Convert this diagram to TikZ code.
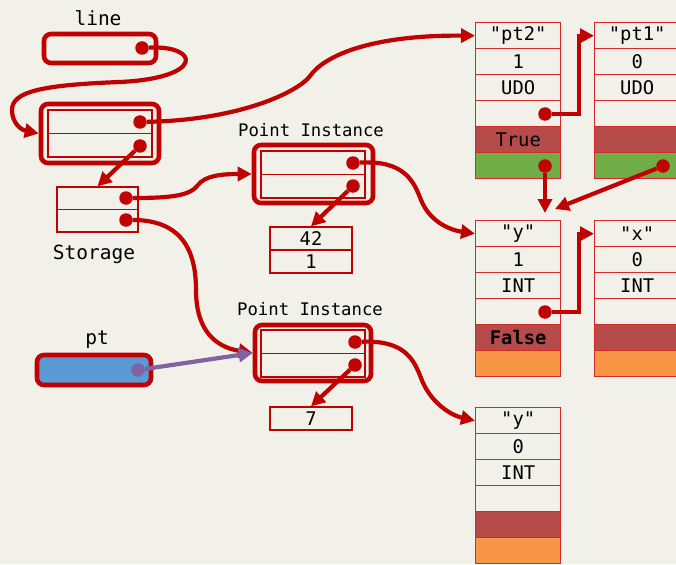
\documentclass[tikz,border=0pt]{standalone}
\usepackage{fontspec}
\setmonofont{DejaVu Sans Mono}
\usetikzlibrary{arrows.meta}
\definecolor{bg}{HTML}{F2F1E9}
\definecolor{ptr}{HTML}{C00000}
\definecolor{cellline}{HTML}{D42A2A}
\definecolor{flagred}{HTML}{B64C4A}
\definecolor{flaggreen}{HTML}{70AD47}
\definecolor{flagorange}{HTML}{F79646}
\definecolor{varblue}{HTML}{5B9BD5}
\definecolor{refpurple}{HTML}{8064A2}
\newcommand\celltext{\ttfamily\fontsize{18.8}{20}\selectfont}
\newcommand\labeltext{\ttfamily\fontsize{19.5}{22}\selectfont}
\newcommand\smalllabel{\ttfamily\fontsize{17.3}{20}\selectfont}
\begin{document}
\begin{tikzpicture}[x=1pt,y=-1pt,
  cell/.style={draw=cellline, line width=1.4pt, fill=bg, minimum width=85pt,
    minimum height=26pt, inner sep=0pt, anchor=north west, font=\celltext},
  varbox/.style={draw=ptr, line width=4.6pt, rounded corners=7pt, inner sep=0pt},
  slot/.style={draw=ptr, line width=1.4pt, inner sep=0pt, font=\celltext},
  dot/.style={circle, fill=ptr, inner sep=0pt, minimum size=13.5pt},
  ptrline/.style={draw=ptr, line width=4.2pt, -{Triangle[length=14pt,width=14pt]}},
  lbl/.style={inner sep=0pt, font=\labeltext},
  slbl/.style={inner sep=0pt, font=\smalllabel}]
\clip (0,0) rectangle (676,564);
\fill[bg] (0,0) rectangle (676,564);

% ---- variable "line" and its instance
\node[lbl] (linelbl) at (98,18) {line};
\node[varbox, minimum width=112pt, minimum height=29pt] (linevar) at (100,48.5) {};
\node[varbox, minimum width=118pt, minimum height=59pt] (lineinst) at (100,133.5) {};
\node[slot, minimum width=104pt, minimum height=23.5pt] (li1) at (100,121.75) {};
\node[slot, minimum width=104pt, minimum height=23.5pt] (li2) at (100,145.25) {};

% ---- storage
\node[slot, minimum width=81pt, minimum height=22.5pt] (st1) at (97.5,198.25) {};
\node[slot, minimum width=81pt, minimum height=22.5pt] (st2) at (97.5,220.75) {};
\node[lbl] (stlbl) at (94,254) {Storage};

% ---- first Point instance
\node[slbl] (pitlbl) at (311,130) {Point Instance};
\node[varbox, minimum width=119pt, minimum height=58pt] (pit) at (313.5,174) {};
\node[slot, minimum width=104pt, minimum height=23.5pt] (pit1) at (313,162.75) {};
\node[slot, minimum width=104pt, minimum height=23.5pt] (pit2) at (313,186.25) {};
\node[slot, minimum width=82pt, minimum height=23pt] (v42) at (311,238.5) {42};
\node[slot, minimum width=82pt, minimum height=23pt] (v1) at (311,261.5) {1};

% ---- second Point instance
\node[slbl] (piblbl) at (310,309) {Point Instance};
\node[varbox, minimum width=116pt, minimum height=56pt] (pib) at (313,353) {};
\node[slot, minimum width=104pt, minimum height=23.5pt] (pib1) at (313,341.75) {};
\node[slot, minimum width=104pt, minimum height=23.5pt] (pib2) at (313,365.25) {};
\node[slot, minimum width=82pt, minimum height=23pt] (v7) at (311,418.5) {7};

% ---- variable "pt"
\node[lbl] (ptlbl) at (97,340) {pt};
\node[varbox, fill=varblue, minimum width=114pt, minimum height=30pt] (ptvar) at (94,370) {};

% ---- attribute records, top pair
\node[cell] (ta1) at (475,22)  {"pt2"};
\node[cell] (ta2) at (475,48)  {1};
\node[cell] (ta3) at (475,74)  {UDO};
\node[cell] (ta4) at (475,100) {};
\node[cell, fill=flagred] (ta5) at (475,126) {True};
\node[cell, fill=flaggreen] (ta6) at (475,152) {};
\node[cell] (tb1) at (594,22)  {"pt1"};
\node[cell] (tb2) at (594,48)  {0};
\node[cell] (tb3) at (594,74)  {UDO};
\node[cell] (tb4) at (594,100) {};
\node[cell, fill=flagred] (tb5) at (594,126) {};
\node[cell, fill=flaggreen] (tb6) at (594,152) {};

% ---- attribute records, middle pair
\node[cell] (ma1) at (475,220) {"y"};
\node[cell] (ma2) at (475,246) {1};
\node[cell] (ma3) at (475,272) {INT};
\node[cell] (ma4) at (475,298) {};
\node[cell, fill=flagred, font=\celltext\bfseries] (ma5) at (475,324) {False};
\node[cell, fill=flagorange] (ma6) at (475,350) {};
\node[cell] (mb1) at (594,220) {"x"};
\node[cell] (mb2) at (594,246) {0};
\node[cell] (mb3) at (594,272) {INT};
\node[cell] (mb4) at (594,298) {};
\node[cell, fill=flagred] (mb5) at (594,324) {};
\node[cell, fill=flagorange] (mb6) at (594,350) {};

% ---- attribute record, bottom
\node[cell] (ba1) at (475,407) {"y"};
\node[cell] (ba2) at (475,433) {0};
\node[cell] (ba3) at (475,459) {INT};
\node[cell] (ba4) at (475,485) {};
\node[cell, fill=flagred] (ba5) at (475,511) {};
\node[cell, fill=flagorange] (ba6) at (475,537) {};

% ---- pointer origins
\node[dot] (ld)   at (142,48) {};
\node[dot] (lid1) at (140,122) {};
\node[dot] (lid2) at (140,146) {};
\node[dot] (sd1)  at (126,198) {};
\node[dot] (sd2)  at (126,220) {};
\node[dot] (pid1) at (353,163) {};
\node[dot] (pid2) at (353,186) {};
\node[dot] (pbd1) at (355,342) {};
\node[dot] (pbd2) at (355,365) {};
\node[dot, fill=refpurple] (ptd) at (138,370) {};
\node[dot] (td4)  at (545,114) {};
\node[dot] (tdg)  at (545,166) {};
\node[dot] (tbg)  at (663,166) {};
\node[dot] (md4)  at (545,312) {};
\coordinate (mtopA) at (545,213);
\coordinate (mtopB) at (555,209);

% ---- pointers
\draw[ptrline] (ld) .. controls (200,45) and (205,78) .. (120,82)
  .. controls (40,85) and (12,92) .. (12,110)
  .. controls (12,124) and (22,130) .. (lineinst.west);
\draw[ptrline] (lid1) .. controls (240,120) and (298,92) .. (310,76)
  .. controls (324,56) and (370,35) .. (ta1.west);
\draw[ptrline] (lid2) -- (st1.north);
\draw[ptrline] (sd1) .. controls (170,198) and (190,196) .. (198,185)
  .. controls (205,176) and (220,174) .. (pit.west);
\draw[ptrline] (sd2) .. controls (185,220) and (196,255) .. (196,290)
  .. controls (196,330) and (215,347) .. (pib.west);
\draw[ptrline] (pid1) .. controls (405,160) and (414,182) .. (421,200)
  .. controls (430,222) and (450,230) .. (ma1.west);
\draw[ptrline] (pid2) -- (v42.north);
\draw[ptrline] (pbd1) .. controls (405,340) and (414,360) .. (421,378)
  .. controls (430,402) and (450,415) .. (ba1.west);
\draw[ptrline] (pbd2) -- (v7.north);
\draw[ptrline, draw=refpurple, fill=refpurple] (ptd) -- (pib.west);
\draw[ptrline] (td4) -- ++(34,0) |- (tb1.west);
\draw[ptrline] (md4) -- ++(34,0) |- (mb1.west);
\draw[ptrline] (tdg) -- (mtopA);
\draw[ptrline] (tbg) -- (mtopB);
\end{tikzpicture}
\end{document}
